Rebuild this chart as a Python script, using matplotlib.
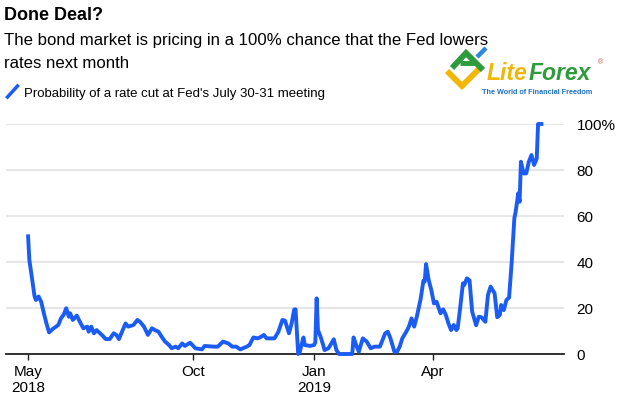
import matplotlib
matplotlib.use("Agg")
import matplotlib.pyplot as plt
import pandas as pd
from matplotlib.lines import Line2D

plt.rcParams['font.family'] = ['Liberation Sans', 'DejaVu Sans']

# ---- data ----
dates = [
    "2018-05-29", "2018-05-30", "2018-06-01", "2018-06-03", "2018-06-04", "2018-06-06",
    "2018-06-08", "2018-06-10", "2018-06-12", "2018-06-14", "2018-06-17", "2018-06-21",
    "2018-06-23", "2018-06-25", "2018-06-27", "2018-06-29", "2018-06-30", "2018-07-02",
    "2018-07-05", "2018-07-08", "2018-07-10", "2018-07-13", "2018-07-14", "2018-07-16",
    "2018-07-18", "2018-07-20", "2018-07-24", "2018-07-27", "2018-07-30", "2018-08-02",
    "2018-08-04", "2018-08-06", "2018-08-11", "2018-08-13", "2018-08-17", "2018-08-20",
    "2018-08-22", "2018-08-25", "2018-08-28", "2018-08-31", "2018-09-02", "2018-09-05",
    "2018-09-08", "2018-09-10", "2018-09-13", "2018-09-15", "2018-09-18", "2018-09-20",
    "2018-09-23", "2018-09-25", "2018-09-29", "2018-10-03", "2018-10-08", "2018-10-10",
    "2018-10-17", "2018-10-20", "2018-10-24", "2018-10-28", "2018-10-31", "2018-11-03",
    "2018-11-06", "2018-11-11", "2018-11-13", "2018-11-16", "2018-11-19", "2018-11-21",
    "2018-11-24", "2018-11-26", "2018-12-02", "2018-12-05", "2018-12-08", "2018-12-10",
    "2018-12-13", "2018-12-15", "2018-12-17", "2018-12-18", "2018-12-20", "2018-12-21",
    "2018-12-24", "2018-12-25", "2018-12-29", "2019-01-01", "2019-01-02", "2019-01-03",
    "2019-01-04", "2019-01-06", "2019-01-08", "2019-01-09", "2019-01-12", "2019-01-16",
    "2019-01-18", "2019-01-20", "2019-01-30", "2019-01-31", "2019-02-02", "2019-02-04",
    "2019-02-07", "2019-02-10", "2019-02-13", "2019-02-16", "2019-02-20", "2019-02-24",
    "2019-02-26", "2019-02-28", "2019-03-03", "2019-03-05", "2019-03-07", "2019-03-09",
    "2019-03-12", "2019-03-14", "2019-03-16", "2019-03-18", "2019-03-20", "2019-03-23",
    "2019-03-25", "2019-03-26", "2019-03-27", "2019-03-29", "2019-03-31", "2019-04-02",
    "2019-04-04", "2019-04-07", "2019-04-09", "2019-04-11", "2019-04-13", "2019-04-15",
    "2019-04-17", "2019-04-19", "2019-04-20", "2019-04-22", "2019-04-24", "2019-04-25",
    "2019-04-27", "2019-04-29", "2019-05-01", "2019-05-04", "2019-05-06", "2019-05-08",
    "2019-05-11", "2019-05-13", "2019-05-15", "2019-05-18", "2019-05-20", "2019-05-22",
    "2019-05-23", "2019-05-25", "2019-05-27", "2019-05-29", "2019-05-31", "2019-06-02",
    "2019-06-03", "2019-06-05", "2019-06-06", "2019-06-07", "2019-06-09", "2019-06-11",
    "2019-06-13", "2019-06-15", "2019-06-17", "2019-06-19", "2019-06-20", "2019-06-24",
]
probability = [
    52, 41, 33, 25, 23.5, 25,
    22.7, 17.8, 13.3, 9.4, 11, 12.6,
    15.5, 17, 19.9, 16.2, 17.7, 14.8,
    16.7, 13.3, 11.2, 11.9, 9.7, 11.9,
    9, 10.4, 8.3, 6.5, 6.5, 9,
    8.3, 6.5, 13.3, 11.9, 12.6, 14.8,
    14, 11.9, 8.3, 11.2, 10.5, 9.7,
    7, 5.4, 3.9, 2.5, 3.2, 2.5,
    4.6, 3.5, 4.9, 2.5, 2, 3.5,
    3.2, 3.2, 5.4, 4.6, 3.2, 3.2,
    2, 3.2, 3.9, 7.2, 6.8, 7.2,
    8.3, 6.8, 6.8, 9.7, 14.8, 14.5,
    9, 13.3, 19.4, 19.4, 0, 0.5,
    7.2, 3.9, 3.5, 3.9, 5, 24.2,
    10.4, 7.5, 3.8, 1.7, 2.5, 6.4,
    1.7, 0, 0, 7.2, 3.9, 1,
    6.8, 5.4, 2.5, 3.2, 3.2, 9,
    9.7, 6.8, 1, 1, 3.2, 6.8,
    9.7, 11.9, 15.5, 11.9, 16.2, 24.2,
    31.9, 31.5, 39.1, 32.2, 27.8, 22,
    22.7, 17.7, 19.4, 17, 13.3, 10.4,
    12.6, 10.4, 11.2, 20.6, 30.7, 30,
    32.9, 32, 18.4, 12.5, 16.2, 16,
    14, 25.7, 29.3, 26.4, 16, 17,
    21.3, 19.1, 23.5, 24.5, 40, 59,
    61.9, 69.9, 66.2, 83.6, 78.5, 78.5,
    83.6, 86.5, 82.2, 85, 100, 100,
]
xtick_dates = ["2018-05-29", "2018-10-01", "2019-01-01", "2019-04-01"]
xtick_labels = ["May\n2018", "Oct", "Jan\n2019", "Apr"]
ytick_values = [0, 20, 40, 60, 80, 100]
ytick_labels = ["0", "20", "40", "60", "80", "100%"]

title = "Done Deal?"
subtitle_lines = ["The bond market is pricing in a 100% chance that the Fed lowers",
                  "rates next month"]
legend_label = "Probability of a rate cut at Fed's July 30-31 meeting"

BLUE = "#1a5cf5"
W, H = 617, 397

fig = plt.figure(figsize=(W / 100, H / 100), dpi=100)

def fx(px):
    return px / W

def fy(py):
    return 1 - py / H

ax_left, ax_right, ax_top, ax_bottom = 6, 564, 124, 354
ax = fig.add_axes([fx(ax_left), fy(ax_bottom), fx(ax_right - ax_left), (ax_bottom - ax_top) / H])

x = pd.to_datetime(dates)
ax.plot(x, probability, color=BLUE, lw=2.8, solid_joinstyle='round',
        solid_capstyle='butt', clip_on=False, zorder=3)

start = pd.Timestamp("2018-05-29")
px_per_day = 1.318
left_days = (ax_left - 28) / px_per_day
right_days = (ax_right - 28) / px_per_day
ax.set_xlim(start + pd.Timedelta(days=left_days), start + pd.Timedelta(days=right_days))
ax.set_ylim(0, 100)

ax.set_xticks(pd.to_datetime(xtick_dates))
ax.set_xticklabels(xtick_labels, fontsize=11, linespacing=1.15)
ax.tick_params(axis='x', direction='out', length=4.5, width=1, color='#222222', pad=3.5)

ax.yaxis.tick_right()
ax.set_yticks(ytick_values)
ax.set_yticklabels(ytick_labels, fontsize=11)
ax.tick_params(axis='y', length=0, pad=9)
for lbl in ax.get_yticklabels():
    lbl.set_horizontalalignment('left')

ax.grid(axis='y', color='#e6e6e6', lw=1.5, zorder=0)
ax.set_axisbelow(True)
for s in ['top', 'right', 'left']:
    ax.spines[s].set_visible(False)
ax.spines['bottom'].set_color('#222222')
ax.spines['bottom'].set_linewidth(1.3)
ax.spines['bottom'].set_zorder(2)
ax.set_facecolor('none')

# titles
fig.text(fx(4), fy(20), title, fontsize=13, fontweight='bold', va='baseline', ha='left')
fig.text(fx(4), fy(45), subtitle_lines[0], fontsize=12.1, va='baseline', ha='left')
fig.text(fx(4), fy(68), subtitle_lines[1], fontsize=12.1, va='baseline', ha='left')

# legend
fig.add_artist(Line2D([fx(7.5), fx(17.5)], [fy(97), fy(86)], color=BLUE, lw=2.5,
                      transform=fig.transFigure))
fig.text(fx(24), fy(97), legend_label, fontsize=9.5, va='baseline', ha='left')

# LiteForex watermark (approximation)
def seg(pts, color, lw):
    xs = [fx(p[0]) for p in pts]
    ys = [fy(p[1]) for p in pts]
    fig.add_artist(Line2D(xs, ys, color=color, lw=lw, transform=fig.transFigure,
                          solid_capstyle='butt', solid_joinstyle='miter'))

seg([(447, 71), (462, 86), (479, 69)], "#f2b705", 4.2)
seg([(452, 68), (466, 53), (483, 70)], "#2e9b3c", 4.2)
seg([(460, 63), (476, 63)], "#2e9b3c", 3.5)
seg([(477, 57), (486, 48)], "#2b8ad8", 3.2)
renderer = fig.canvas.get_renderer()
t1 = fig.text(fx(487), fy(80), "Lite", fontsize=16.5, fontweight='bold', style='italic',
              color="#f2b705", va='baseline', ha='left')
bb = t1.get_window_extent(renderer=renderer)
fig.text(bb.x1 / W + fx(0.5), fy(80), "Forex", fontsize=16.5, fontweight='bold', style='italic',
         color="#2e9b3c", va='baseline', ha='left')
fig.text(fx(598), fy(64), "®", fontsize=5, color="#d9534f", va='baseline', ha='left')
fig.text(fx(482), fy(94), "The World of Financial Freedom", fontsize=5.2, fontweight='bold',
         color="#1d6fc0", va='baseline', ha='left')

fig.savefig("out.png", dpi=100)
